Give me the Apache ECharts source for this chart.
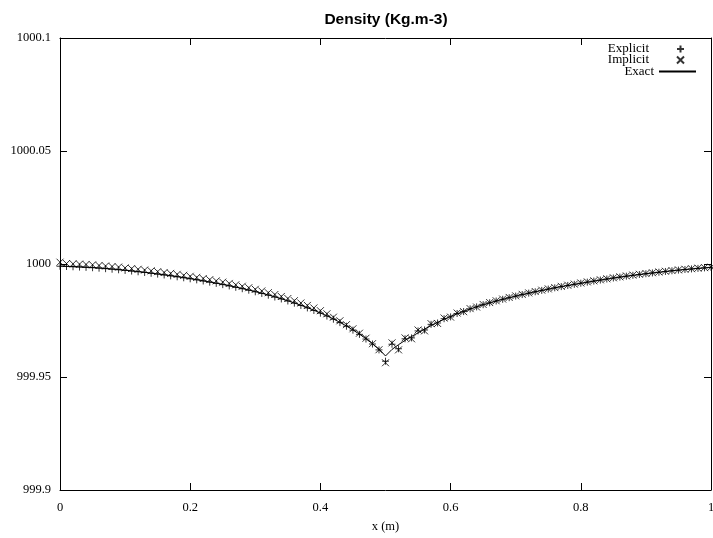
<!DOCTYPE html>
<html>
<head>
<meta charset="utf-8">
<script src="https://cdn.jsdelivr.net/npm/echarts@6/dist/echarts.min.js"></script>
<style>
html,body{margin:0;padding:0;background:#fff;}
#chart{width:713px;height:538px;}
</style>
</head>
<body>
<div id="chart"></div>
<script>
// x positions (m)
const xs = [0,0.01,0.02,0.03,0.04,0.05,0.06,0.07,0.08,0.09,
0.10,0.11,0.12,0.13,0.14,0.15,0.16,0.17,0.18,0.19,
0.20,0.21,0.22,0.23,0.24,0.25,0.26,0.27,0.28,0.29,
0.30,0.31,0.32,0.33,0.34,0.35,0.36,0.37,0.38,0.39,
0.40,0.41,0.42,0.43,0.44,0.45,0.46,0.47,0.48,0.49,
0.50,0.51,0.52,0.53,0.54,0.55,0.56,0.57,0.58,0.59,
0.60,0.61,0.62,0.63,0.64,0.65,0.66,0.67,0.68,0.69,
0.70,0.71,0.72,0.73,0.74,0.75,0.76,0.77,0.78,0.79,
0.80,0.81,0.82,0.83,0.84,0.85,0.86,0.87,0.88,0.89,
0.90,0.91,0.92,0.93,0.94,0.95,0.96,0.97,0.98,0.99,1.00];

const explicitVals = [999.99900,999.99889,999.99877,999.99864,999.99850,999.99835,999.99815,999.99793,999.99769,999.99744,
999.99716,999.99687,999.99656,999.99623,999.99588,999.99552,999.99514,999.99474,999.99433,999.99390,
999.99345,999.99298,999.99248,999.99196,999.99143,999.99088,999.99030,999.98969,999.98906,999.98840,
999.98770,999.98697,999.98620,999.98539,999.98453,999.98363,999.98267,999.98165,999.98057,999.97944,
999.97824,999.97696,999.97557,999.97407,999.97246,999.97073,999.96887,999.96680,999.96460,999.96200,
999.95700,999.96450,999.96250,999.96690,999.96730,999.97040,999.97080,999.97330,999.97390,999.97580,
999.97660,999.97810,999.97895,999.98015,999.98102,999.98200,999.98284,999.98363,999.98438,999.98510,
999.98580,999.98647,999.98711,999.98772,999.98832,999.98890,999.98946,999.99000,999.99051,999.99101,
999.99150,999.99198,999.99245,999.99291,999.99336,999.99380,999.99422,999.99462,999.99500,999.99536,
999.99570,999.99604,999.99637,999.99669,999.99700,999.99730,999.99757,999.99782,999.99806,999.99829,999.99850];

const implicitVals = [1000.00080,1000.00019,1000.00007,999.99994,999.99980,999.99965,999.99935,999.99913,999.99889,999.99864,
999.99826,999.99797,999.99766,999.99733,999.99698,999.99662,999.99624,999.99584,999.99543,999.99500,
999.99455,999.99408,999.99358,999.99306,999.99253,999.99198,999.99140,999.99079,999.99016,999.98950,
999.98880,999.98807,999.98730,999.98649,999.98563,999.98473,999.98377,999.98275,999.98167,999.98054,
999.97934,999.97796,999.97647,999.97487,999.97316,999.97133,999.96937,999.96714,999.96474,999.96206,
999.95630,999.96510,999.96200,999.96730,999.96690,999.97080,999.97040,999.97360,999.97370,999.97610,
999.97650,999.97830,999.97890,999.98025,999.98095,999.98210,999.98294,999.98373,999.98448,999.98520,
999.98590,999.98657,999.98721,999.98782,999.98842,999.98900,999.98956,999.99010,999.99061,999.99111,
999.99160,999.99208,999.99255,999.99301,999.99346,999.99390,999.99432,999.99472,999.99510,999.99546,
999.99580,999.99614,999.99647,999.99679,999.99710,999.99740,999.99767,999.99792,999.99816,999.99839,999.99860];

const exactVals = [999.99910,999.99899,999.99887,999.99874,999.99860,999.99845,999.99825,999.99803,999.99779,999.99754,
999.99726,999.99697,999.99666,999.99633,999.99598,999.99562,999.99524,999.99484,999.99443,999.99400,
999.99355,999.99308,999.99258,999.99206,999.99153,999.99098,999.99040,999.98979,999.98916,999.98850,
999.98780,999.98707,999.98630,999.98549,999.98463,999.98373,999.98277,999.98175,999.98067,999.97954,
999.97834,999.97706,999.97567,999.97417,999.97256,999.97083,999.96897,999.96694,999.96474,999.96236,
999.95930,999.96220,999.96430,999.96620,999.96795,999.96950,999.97120,999.97275,999.97420,999.97555,
999.97680,999.97795,999.97905,999.98008,999.98107,999.98200,999.98284,999.98363,999.98438,999.98510,
999.98580,999.98647,999.98711,999.98772,999.98832,999.98890,999.98946,999.99000,999.99051,999.99101,
999.99150,999.99198,999.99245,999.99291,999.99336,999.99380,999.99422,999.99462,999.99500,999.99536,
999.99570,999.99604,999.99637,999.99669,999.99700,999.99730,999.99757,999.99782,999.99806,999.99829,999.99850];

const seriesNames = ['Explicit', 'Implicit', 'Exact'];
const xTickLabels = ['0', '0.2', '0.4', '0.6', '0.8', '1'];
const yTickLabels = ['999.9', '999.95', '1000', '1000.05', '1000.1'];

const serif = 'Liberation Serif, Times New Roman, serif';
const plusPath = 'path://M5,0L5,10M0,5L10,5';
const crossPath = 'path://M0,0L10,10M10,0L0,10';

function pairs(vals) { return xs.map((x, i) => [x, vals[i]]); }

const chart = echarts.init(document.getElementById('chart'), null, {renderer: 'canvas'});

const axisCommon = {
  axisLine: {show: true, onZero: false, lineStyle: {color: '#000', width: 1}},
  axisTick: {show: true, inside: true, length: 7, lineStyle: {color: '#000', width: 1}},
  splitLine: {show: false}
};

const legendCommon = {
  orient: 'horizontal', align: 'right', padding: 0, selectedMode: false,
  itemHeight: 7,
  textStyle: {fontFamily: serif, fontSize: 13, color: '#000'}
};

chart.setOption({
  animation: false,
  backgroundColor: '#fff',
  title: {
    text: 'Density (Kg.m-3)', left: 381, textAlign: 'center', top: 7,
    textStyle: {fontFamily: 'Liberation Sans, Arial, sans-serif', fontSize: 15.5, fontWeight: 'bold', color: '#000'}
  },
  legend: [
    Object.assign({}, legendCommon, {top: 42.5, right: 26.5, itemWidth: 53, data: [seriesNames[0]]}),
    Object.assign({}, legendCommon, {top: 53.5, right: 26.5, itemWidth: 53, data: [seriesNames[1]]}),
    Object.assign({}, legendCommon, {top: 65, right: 16, itemWidth: 37, itemHeight: 1, data: [seriesNames[2]]})
  ],
  grid: {left: 60, right: 2, top: 38, bottom: 48, containLabel: false, outerBoundsMode: 'none'},
  xAxis: [
    Object.assign({}, axisCommon, {
      type: 'value', min: 0, max: 1, interval: 0.2, position: 'bottom',
      axisLabel: {
        fontFamily: serif, fontSize: 12.5, color: '#000', margin: 11,
        formatter: v => xTickLabels[Math.round(v / 0.2)]
      },
      name: 'x (m)', nameLocation: 'middle', nameGap: 30,
      nameTextStyle: {fontFamily: serif, fontSize: 12.5, color: '#000'}
    }),
    Object.assign({}, axisCommon, {
      type: 'value', min: 0, max: 1, interval: 0.2, position: 'top',
      axisLabel: {show: false}
    })
  ],
  yAxis: [
    Object.assign({}, axisCommon, {
      type: 'value', min: 999.9, max: 1000.1, interval: 0.05, position: 'left',
      axisLabel: {
        fontFamily: serif, fontSize: 12.5, color: '#000', margin: 9,
        formatter: v => yTickLabels[Math.round((v - 999.9) / 0.05)]
      }
    }),
    Object.assign({}, axisCommon, {
      type: 'value', min: 999.9, max: 1000.1, interval: 0.05, position: 'right',
      axisLabel: {show: false}
    })
  ],
  series: [
    {
      name: seriesNames[0], type: 'scatter', data: pairs(explicitVals),
      symbol: plusPath, symbolSize: 7, symbolKeepAspect: true, clip: false,
      itemStyle: {color: 'none', borderColor: '#000', borderWidth: 1},
      emphasis: {disabled: true}
    },
    {
      name: seriesNames[1], type: 'scatter', data: pairs(implicitVals),
      symbol: crossPath, symbolSize: 7, symbolKeepAspect: true, clip: false,
      itemStyle: {color: 'none', borderColor: '#000', borderWidth: 1},
      emphasis: {disabled: true}
    },
    {
      name: seriesNames[2], type: 'line', data: pairs(exactVals),
      showSymbol: false, symbol: 'none', smooth: false,
      lineStyle: {color: '#000', width: 1},
      itemStyle: {color: '#000'},
      emphasis: {disabled: true}
    }
  ]
});
</script>
</body>
</html>
